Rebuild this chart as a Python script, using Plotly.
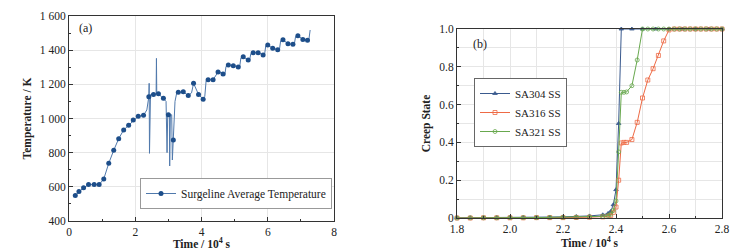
import plotly.graph_objects as go

# ---------------- Panel (a): surge line average temperature ----------------
dot_time = [0.19, 0.30, 0.44, 0.59, 0.76, 0.91, 1.05, 1.20, 1.35, 1.50, 1.65, 1.80, 1.94, 2.09,
            2.25, 2.41, 2.55, 2.70, 2.85, 3.00, 3.15, 3.30, 3.45, 3.60, 3.76, 3.91, 4.05, 4.20,
            4.35, 4.50, 4.65, 4.81, 4.96, 5.11, 5.26, 5.41, 5.56, 5.71, 5.86, 6.00, 6.15, 6.30,
            6.46, 6.61, 6.76, 6.91, 7.06, 7.20]
dot_temp = [550, 572, 595, 613, 613, 613, 646, 738, 814, 882, 933, 960, 991, 1013,
            1019, 1128, 1141, 1145, 1118, 1022, 874, 1153, 1157, 1134, 1206, 1141, 1112, 1227,
            1227, 1272, 1260, 1313, 1309, 1301, 1362, 1342, 1385, 1385, 1372, 1430, 1411, 1403,
            1461, 1438, 1434, 1485, 1463, 1458]

# extra samples of the continuous curve (spikes / dips between the markers)
curve_extra_time = [2.35, 2.42, 2.43, 2.46, 2.63, 2.64, 2.65, 2.93, 2.96, 2.98, 3.03, 3.04,
                    3.06, 3.10, 3.12, 3.20, 3.25, 3.70, 4.10, 4.14, 4.55, 4.58, 4.70, 4.74,
                    5.15, 5.19, 5.45, 5.49, 5.90, 5.94, 6.35, 6.39, 6.80, 6.84, 7.24, 7.28]
curve_extra_temp = [1050, 1206, 796, 1140, 1143, 1352, 1145, 1100, 800, 1025, 1022, 722,
                    1022, 1022, 757, 1100, 1148, 1150, 1130, 1222, 1262, 1272, 1250, 1305,
                    1300, 1355, 1340, 1380, 1370, 1425, 1400, 1455, 1432, 1480, 1460, 1518]

# ---------------- Panel (b): creep state ----------------
creep_time_304 = [1.80, 1.85, 1.90, 1.95, 2.00, 2.05, 2.10, 2.15, 2.20, 2.25, 2.30, 2.35,
                  2.37, 2.38, 2.39, 2.40, 2.41, 2.42, 2.46, 2.50, 2.55, 2.60,
                  2.65, 2.70, 2.75, 2.80]
creep_304 = [0.001, 0.001, 0.002, 0.002, 0.003, 0.003, 0.004, 0.005, 0.006, 0.008, 0.011, 0.017,
             0.024, 0.035, 0.07, 0.15, 0.50, 1.0, 1.0, 1.0, 1.0, 1.0,
             1.0, 1.0, 1.0, 1.0]

creep_time_316 = [1.80, 1.85, 1.90, 1.95, 2.00, 2.05, 2.10, 2.15, 2.20, 2.25, 2.30, 2.35,
                  2.37, 2.38, 2.39, 2.40, 2.41, 2.42, 2.43, 2.44, 2.46, 2.48, 2.50, 2.52,
                  2.54, 2.56, 2.58, 2.60, 2.62, 2.64, 2.66, 2.68, 2.70, 2.72, 2.74, 2.76,
                  2.78, 2.80]
creep_316 = [0.0, 0.0, 0.001, 0.001, 0.001, 0.001, 0.002, 0.002, 0.002, 0.003, 0.004, 0.006,
             0.009, 0.014, 0.03, 0.058, 0.2, 0.397, 0.40, 0.40, 0.415, 0.506, 0.635, 0.73,
             0.79, 0.86, 0.937, 0.995, 1.0, 1.0, 1.0, 1.0, 1.0, 1.0, 1.0, 1.0,
             1.0, 1.0]

creep_time_321 = [1.80, 1.85, 1.90, 1.95, 2.00, 2.05, 2.10, 2.15, 2.20, 2.25, 2.30, 2.35,
                  2.37, 2.38, 2.39, 2.40, 2.41, 2.42, 2.43, 2.44, 2.46, 2.48, 2.50, 2.52,
                  2.54, 2.56, 2.58, 2.60, 2.62, 2.64, 2.66, 2.68, 2.70, 2.72, 2.74, 2.76,
                  2.78, 2.80]
creep_321 = [0.0, 0.001, 0.001, 0.001, 0.002, 0.002, 0.002, 0.003, 0.003, 0.004, 0.006, 0.009,
             0.013, 0.02, 0.04, 0.09, 0.35, 0.665, 0.665, 0.667, 0.70, 0.836, 1.0, 1.0,
             1.0, 1.0, 1.0, 1.0, 1.0, 1.0, 1.0, 1.0, 1.0, 1.0, 1.0, 1.0,
             1.0, 1.0]

series_names = ["SA304 SS", "SA316 SS", "SA321 SS"]
creep_y_ticks = [0, 0.2, 0.4, 0.6, 0.8, 1.0]
creep_y_labels = ["0", "0.2", "0.4", "0.6", "0.8", "1.0"]

FONT = "Liberation Serif"
TXT = "#222222"
W, H = 747, 250

# merge curve samples for panel (a)
pairs = sorted(zip(dot_time + curve_extra_time, dot_temp + curve_extra_temp))
curve_time = [p[0] for p in pairs]
curve_temp = [p[1] for p in pairs]

fig = go.Figure()

LINE_A = "#5079ac"
DOT_A = "#1d4e8a"
fig.add_trace(go.Scatter(x=curve_time, y=curve_temp, mode="lines",
                         line=dict(color=LINE_A, width=1), showlegend=False,
                         xaxis="x", yaxis="y", hoverinfo="skip"))
fig.add_trace(go.Scatter(x=dot_time, y=dot_temp, mode="markers",
                         marker=dict(color=DOT_A, size=5), showlegend=False,
                         xaxis="x", yaxis="y"))
fig.add_trace(go.Scatter(x=[None], y=[None], mode="lines+markers",
                         name="Surgeline Average Temperature",
                         line=dict(color=LINE_A, width=1),
                         marker=dict(color=DOT_A, size=5),
                         xaxis="x", yaxis="y", legend="legend"))

colors_b = ["#3a5a8e", "#ee6a45", "#68a84e"]
symbols_b = ["triangle-up", "square-open", "circle-open"]
xs_b = [creep_time_304, creep_time_316, creep_time_321]
ys_b = [creep_304, creep_316, creep_321]
for name, c, s, xx, yy in zip(series_names, colors_b, symbols_b, xs_b, ys_b):
    fig.add_trace(go.Scatter(x=xx, y=yy, mode="lines+markers", name=name,
                             line=dict(color=c, width=1),
                             marker=dict(color=c, size=4, symbol=s, line=dict(width=0.8, color=c)),
                             cliponaxis=False,
                             xaxis="x2", yaxis="y2", legend="legend2"))

TICKC = "#333333"
axis_common = dict(showline=True, linecolor="#333333", linewidth=1, mirror=True,
                   ticks="inside", ticklen=4, tickcolor=TICKC, automargin=False,
                   tickfont=dict(family=FONT, size=11.5, color=TXT),
                   gridcolor="#e6e6e6", gridwidth=1, zeroline=False)
title_font = dict(family=FONT, size=11.5, color=TXT)

fig.update_layout(
    width=W, height=H,
    margin=dict(l=0, r=0, t=0, b=0),
    paper_bgcolor="white", plot_bgcolor="white",
    separators=". ",
    font=dict(family=FONT, size=11.5, color=TXT),
    xaxis=dict(domain=[69 / W, 334 / W], range=[0, 8], dtick=2, anchor="y",
               minor=dict(dtick=1, ticks="inside", ticklen=2, tickcolor=TICKC, showgrid=False),
               title=dict(text="<b>Time / 10<sup>4</sup> s</b>", font=title_font, standoff=0),
               **axis_common),
    yaxis=dict(domain=[1 - 221 / H, 1 - 16 / H], range=[400, 1600], dtick=200, anchor="x",
               tickformat=",d",
               minor=dict(dtick=100, ticks="inside", ticklen=2, tickcolor=TICKC, showgrid=False),
               title=dict(text="<b>Temperature / K</b>", font=title_font, standoff=5),
               **axis_common),
    xaxis2=dict(domain=[457 / W, 722 / W], range=[1.8, 2.8], dtick=0.2, tickformat=".1f", anchor="y2",
                minor=dict(dtick=0.1, ticks="inside", ticklen=2, tickcolor=TICKC,
                           showgrid=True, gridcolor="#e6e6e6"),
                title=dict(text="<b>Time / 10<sup>4</sup> s</b>", font=title_font, standoff=0),
                **axis_common),
    yaxis2=dict(domain=[1 - 218 / H, 1 - 29 / H], range=[0, 1.0], anchor="x2",
                tickmode="array", tickvals=creep_y_ticks, ticktext=creep_y_labels,
                minor=dict(tickvals=[0.1, 0.3, 0.5, 0.7, 0.9], ticks="inside", ticklen=2,
                           tickcolor=TICKC, showgrid=True, gridcolor="#e6e6e6"),
                title=dict(text="<b>Creep State</b>", font=title_font, standoff=6),
                **axis_common),
    legend=dict(x=332 / W, y=1 - 209 / H, xanchor="right", yanchor="bottom",
                bgcolor="white", bordercolor="#999999", borderwidth=1,
                font=dict(family=FONT, size=11.5, color=TXT), itemwidth=30,
                tracegroupgap=0),
    legend2=dict(x=474 / W, y=1 - 78 / H, xanchor="left", yanchor="top",
                 bgcolor="white", bordercolor="#666666", borderwidth=1,
                 font=dict(family=FONT, size=11, color=TXT), itemwidth=30,
                 tracegroupgap=0),
    annotations=[
        dict(text="(a)", x=0.5, y=1530, xref="x", yref="y", showarrow=False,
             font=dict(family=FONT, size=12, color=TXT)),
        dict(text="(b)", x=1.885, y=0.92, xref="x2", yref="y2", showarrow=False,
             font=dict(family=FONT, size=12, color=TXT)),
    ],
)

fig.write_html("out.html", config={"displayModeBar": False},
               post_script="document.body.style.margin='0';document.body.style.overflow='hidden';")
